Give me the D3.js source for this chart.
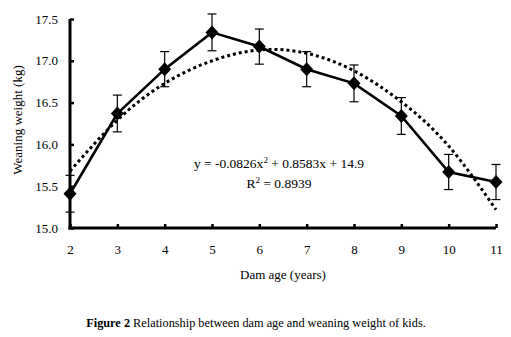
<!DOCTYPE html>
<html>
<head>
<meta charset="utf-8">
<script src="https://cdn.jsdelivr.net/npm/d3@7"></script>
<style>
  body { margin: 0; background: #fff; }
  text { font-family: "Liberation Serif", "Times New Roman", serif; fill: #000; }
</style>
</head>
<body>
<div id="chart"></div>
<script>
// data
const damAge = [2, 3, 4, 5, 6, 7, 8, 9, 10, 11];
const weaningWeight = [15.41, 16.37, 16.90, 17.34, 17.17, 16.90, 16.73, 16.34, 15.67, 15.55];
const errorSize = [0.22, 0.22, 0.21, 0.22, 0.21, 0.21, 0.22, 0.22, 0.21, 0.21];
const trendWeight = [15.68, 16.29, 16.73, 17.00, 17.13, 17.09, 16.88, 16.51, 15.98, 15.22];
const yTicks = [15.0, 15.5, 16.0, 16.5, 17.0, 17.5];
const equationText = "y = -0.0826x";
const equationRest = " + 0.8583x + 14.9";
const rSquared = "0.8939";

const W = 511, H = 337;
const svg = d3.select("#chart").append("svg")
    .attr("width", W)
    .attr("height", H);

const x = d3.scaleLinear().domain([2, 11]).range([70, 496]);
const y = d3.scaleLinear().domain([15, 17.5]).range([228, 19]);

const pts = damAge.map((a, i) => ({ age: a, w: weaningWeight[i], e: errorSize[i], t: trendWeight[i] }));

// trend line (dotted)
svg.append("path")
    .datum(pts)
    .attr("fill", "none")
    .attr("stroke", "#000")
    .attr("stroke-width", 3)
    .attr("stroke-dasharray", "3,3")
    .attr("d", d3.line().x(d => x(d.age)).y(d => y(d.t)).curve(d3.curveNatural));

// error bars
const eb = svg.append("g").attr("stroke", "#000").attr("stroke-width", 1.2);
pts.forEach(d => {
    const cx = x(d.age);
    eb.append("line").attr("x1", cx).attr("x2", cx).attr("y1", y(d.w - d.e)).attr("y2", y(d.w + d.e));
    eb.append("line").attr("x1", cx - 4.5).attr("x2", cx + 4.5).attr("y1", y(d.w + d.e)).attr("y2", y(d.w + d.e));
    eb.append("line").attr("x1", cx - 4.5).attr("x2", cx + 4.5).attr("y1", y(d.w - d.e)).attr("y2", y(d.w - d.e));
});

// mean line
svg.append("path")
    .datum(pts)
    .attr("fill", "none")
    .attr("stroke", "#000")
    .attr("stroke-width", 2.6)
    .attr("d", d3.line().x(d => x(d.age)).y(d => y(d.w)));

// axes
const yAxis = svg.append("g")
    .attr("transform", "translate(70,0)")
    .call(d3.axisLeft(y).tickValues(yTicks).tickFormat(d3.format(".1f")).tickSizeInner(-4).tickSizeOuter(0).tickPadding(12));
const xAxis = svg.append("g")
    .attr("transform", "translate(0,228)")
    .call(d3.axisBottom(x).tickValues(damAge).tickFormat(d3.format("d")).tickSizeInner(-4).tickSizeOuter(0).tickPadding(17));

[yAxis, xAxis].forEach(g => {
    g.select(".domain").attr("stroke", "#000").attr("stroke-width", 3);
    g.selectAll(".tick line").attr("stroke", "#000").attr("stroke-width", 2.5);
    g.selectAll("text").style("font-size", "13px").style("font-family", "Liberation Serif");
});
yAxis.select(".domain").attr("d", `M0,${y(17.5)}V${y(15) + 1.5}`);
xAxis.select(".domain").attr("d", `M${x(2) - 1.5},0H${x(11)}`);

// diamond markers
svg.selectAll(".mk")
    .data(pts)
    .enter()
    .append("path")
    .attr("class", "mk")
    .attr("transform", d => `translate(${x(d.age)},${y(d.w)})`)
    .attr("d", "M0,-7L6.5,0L0,7L-6.5,0Z")
    .attr("fill", "#000");

// axis titles
svg.append("text")
    .attr("transform", "translate(22,120) rotate(-90)")
    .attr("text-anchor", "middle")
    .style("font-size", "13px")
    .text("Weaning weight (kg)");

svg.append("text")
    .attr("x", 283)
    .attr("y", 279)
    .attr("text-anchor", "middle")
    .style("font-size", "13px")
    .text("Dam age (years)");

// equation
const eq = svg.append("text")
    .attr("x", 279)
    .attr("y", 168)
    .attr("text-anchor", "middle")
    .style("font-size", "13.5px");
eq.append("tspan").text(equationText);
eq.append("tspan").attr("dy", -5).style("font-size", "9px").text("2");
eq.append("tspan").attr("dy", 5).text(equationRest);

const r2 = svg.append("text")
    .attr("x", 279)
    .attr("y", 188)
    .attr("text-anchor", "middle")
    .style("font-size", "13.5px");
r2.append("tspan").text("R");
r2.append("tspan").attr("dy", -5).style("font-size", "9px").text("2");
r2.append("tspan").attr("dy", 5).text(" = " + rSquared);

// caption
const cap = svg.append("text")
    .attr("x", 256)
    .attr("y", 327)
    .attr("text-anchor", "middle")
    .style("font-size", "12.3px");
cap.append("tspan").style("font-weight", "bold").text("Figure 2");
cap.append("tspan").text(" Relationship between dam age and weaning weight of kids.");
</script>
</body>
</html>
